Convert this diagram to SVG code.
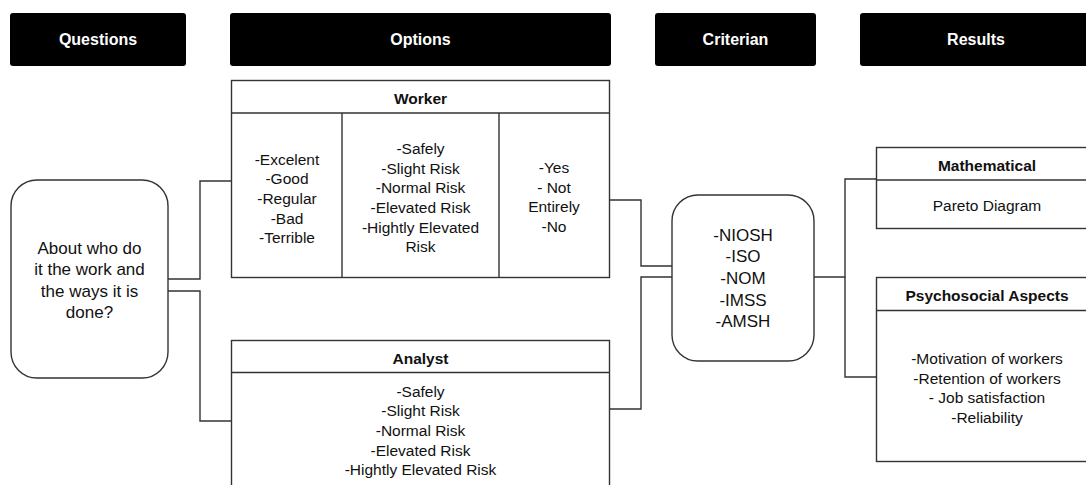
<svg xmlns="http://www.w3.org/2000/svg" width="1086" height="485" viewBox="0 0 1086 485">
<style>
.bar{fill:#000}
.bt{font-family:"Liberation Sans",Arial,sans-serif;font-size:16px;font-weight:bold;fill:#fff;text-anchor:middle;dominant-baseline:central}
.box{fill:#fff;stroke:#333;stroke-width:1.4}
.ln{fill:none;stroke:#333;stroke-width:1.4}
.h{font-family:"Liberation Sans",Arial,sans-serif;font-size:15.5px;font-weight:bold;fill:#111;text-anchor:middle;dominant-baseline:central}
.t{font-family:"Liberation Sans",Arial,sans-serif;font-size:15.5px;fill:#111;text-anchor:middle;dominant-baseline:central}
.tl{font-family:"Liberation Sans",Arial,sans-serif;font-size:17px;fill:#111;text-anchor:middle;dominant-baseline:central}
</style>
<rect width="1086" height="485" fill="#fff"/>
<g id="headers">
<g id="h-questions"><rect class="bar" x="10" y="13" width="176" height="53" rx="3"/><text class="bt" x="98" y="39.5">Questions</text></g>
<g id="h-options"><rect class="bar" x="230" y="13" width="381" height="53" rx="3"/><text class="bt" x="420.5" y="39.5">Options</text></g>
<g id="h-criterian"><rect class="bar" x="655" y="13" width="161" height="53" rx="3"/><text class="bt" x="735.5" y="39.5">Criterian</text></g>
<g id="h-results"><rect class="bar" x="860" y="13" width="232" height="53" rx="3"/><text class="bt" x="976" y="39.5">Results</text></g>
</g>
<g id="connectors">
<path class="ln" d="M168 279 H200 V181 H232"/>
<path class="ln" d="M168 291 H200 V421 H232"/>
<path class="ln" d="M609 200 H641 V266 H672"/>
<path class="ln" d="M609 409 H641 V277 H672"/>
<path class="ln" d="M814 277 H845 V179 H876"/>
<path class="ln" d="M845 277 V377 H876"/>
</g>
<g id="question">
<rect class="box" x="11" y="180" width="157" height="198" rx="26"/>
<text class="tl" x="89.5" y="248">About who do</text>
<text class="tl" x="89.5" y="269.5">it the work and</text>
<text class="tl" x="89.5" y="291">the ways it is</text>
<text class="tl" x="89.5" y="312.5">done?</text>
</g>
<g id="worker">
<rect class="box" x="231.5" y="80.5" width="378" height="197"/>
<path class="ln" d="M231.5 113 H609.5 M342 113 V277.5 M499 113 V277.5"/>
<text class="h" x="420.5" y="98">Worker</text>
<text class="t" x="287" y="159">-Excelent</text>
<text class="t" x="287" y="178.7">-Good</text>
<text class="t" x="287" y="198.4">-Regular</text>
<text class="t" x="287" y="218.1">-Bad</text>
<text class="t" x="287" y="237.8">-Terrible</text>
<text class="t" x="420.5" y="148.3">-Safely</text>
<text class="t" x="420.5" y="168">-Slight Risk</text>
<text class="t" x="420.5" y="187.7">-Normal Risk</text>
<text class="t" x="420.5" y="207.4">-Elevated Risk</text>
<text class="t" x="420.5" y="227.1">-Hightly Elevated</text>
<text class="t" x="420.5" y="246.8">Risk</text>
<text class="t" x="554" y="167.3">-Yes</text>
<text class="t" x="554" y="187">- Not</text>
<text class="t" x="554" y="206.7">Entirely</text>
<text class="t" x="554" y="226.4">-No</text>
</g>
<g id="analyst">
<rect class="box" x="231.5" y="340.5" width="378" height="160"/>
<path class="ln" d="M231.5 372.5 H609.5"/>
<text class="h" x="420.5" y="358">Analyst</text>
<text class="t" x="420.5" y="391">-Safely</text>
<text class="t" x="420.5" y="410.7">-Slight Risk</text>
<text class="t" x="420.5" y="430.4">-Normal Risk</text>
<text class="t" x="420.5" y="450.1">-Elevated Risk</text>
<text class="t" x="420.5" y="469.8">-Hightly Elevated Risk</text>
</g>
<g id="criterian">
<rect class="box" x="672" y="195" width="142" height="166" rx="26"/>
<text class="tl" x="743" y="235">-NIOSH</text>
<text class="tl" x="743" y="256.7">-ISO</text>
<text class="tl" x="743" y="278.4">-NOM</text>
<text class="tl" x="743" y="300.1">-IMSS</text>
<text class="tl" x="743" y="321.8">-AMSH</text>
</g>
<g id="mathematical">
<rect class="box" x="876.5" y="147.5" width="220" height="81"/>
<path class="ln" d="M876.5 180 H1096"/>
<text class="h" x="987" y="165">Mathematical</text>
<text class="t" x="987" y="205.7">Pareto Diagram</text>
</g>
<g id="psychosocial">
<rect class="box" x="876.5" y="277.5" width="220" height="184"/>
<path class="ln" d="M876.5 310.5 H1096"/>
<text class="h" x="987" y="295">Psychosocial Aspects</text>
<text class="t" x="987" y="358.3">-Motivation of workers</text>
<text class="t" x="987" y="378">-Retention of workers</text>
<text class="t" x="987" y="397.5">- Job satisfaction</text>
<text class="t" x="987" y="417">-Reliability</text>
</g>
</svg>
